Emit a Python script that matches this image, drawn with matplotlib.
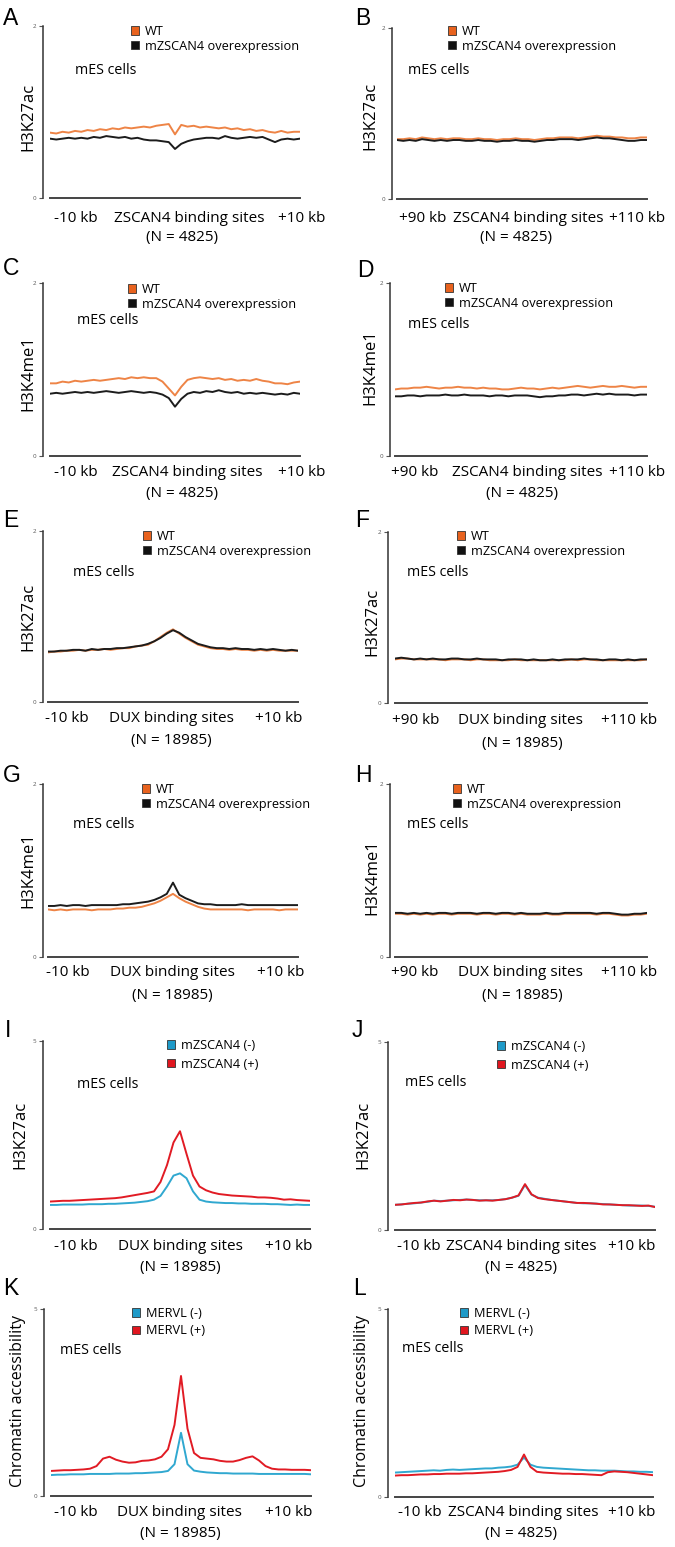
import numpy as np
import matplotlib.pyplot as plt
from matplotlib.patches import Patch

plt.rcParams['font.family'] = ['Open Sans', 'DejaVu Sans']

W, H = 675, 1547

# bin centres (kb)
x_near = np.arange(-10, 10.5, 0.5)
x_far = np.arange(90, 110.5, 0.5)

# A: H3K27ac around ZSCAN4 sites
a_wt = [.76, .75, .77, .76, .78, .77, .79, .78, .80, .79,
        .81, .80, .82, .81, .82, .83, .82, .84, .85, .86,
        .74, .85, .83, .84, .82, .83, .82, .81, .82, .80,
        .81, .79, .80, .78, .79, .77, .76, .78, .76, .77, .77]
a_oe = [.69, .68, .69, .70, .69, .70, .69, .71, .70, .72,
        .71, .70, .71, .69, .70, .68, .67, .67, .66, .65,
        .57, .63, .66, .68, .69, .70, .70, .69, .72, .70,
        .69, .70, .71, .70, .71, .68, .65, .68, .69, .68, .69]
# B: H3K27ac +90..+110 kb from ZSCAN4 sites
b_wt = [.70, .70, .71, .70, .72, .71, .70, .71, .70, .71,
        .71, .70, .70, .71, .70, .70, .69, .70, .70, .71,
        .70, .70, .69, .70, .71, .71, .72, .72, .72, .71,
        .72, .73, .74, .73, .73, .72, .72, .71, .71, .72, .72]
b_oe = [.69, .68, .69, .68, .70, .69, .68, .69, .68, .69,
        .69, .68, .68, .69, .68, .68, .67, .68, .68, .69,
        .68, .68, .67, .68, .69, .69, .70, .70, .70, .69,
        .70, .71, .72, .71, .71, .70, .69, .68, .68, .69, .69]
# C: H3K4me1 around ZSCAN4 sites
c_wt = [.84, .84, .86, .85, .87, .86, .87, .88, .87, .88,
        .89, .90, .89, .91, .90, .91, .90, .90, .86, .78,
        .70, .80, .88, .90, .91, .90, .89, .90, .88, .89,
        .87, .88, .87, .89, .87, .86, .84, .84, .83, .85, .86]
c_oe = [.72, .73, .72, .73, .74, .73, .74, .73, .74, .75,
        .74, .73, .74, .75, .74, .73, .74, .73, .71, .67,
        .57, .66, .72, .74, .73, .75, .74, .76, .74, .73,
        .74, .72, .73, .72, .73, .72, .71, .72, .71, .73, .72]
# D: H3K4me1 +90..+110 kb from ZSCAN4 sites
d_wt = [.77, .78, .78, .79, .79, .80, .79, .78, .79, .79,
        .80, .79, .79, .78, .79, .78, .78, .77, .77, .78,
        .79, .78, .78, .77, .78, .79, .78, .79, .80, .81,
        .80, .79, .80, .81, .80, .80, .81, .80, .79, .80, .80]
d_oe = [.69, .69, .70, .70, .69, .70, .70, .70, .71, .70,
        .70, .71, .70, .70, .70, .69, .70, .70, .69, .70,
        .70, .70, .69, .68, .69, .69, .70, .70, .71, .71,
        .70, .71, .72, .71, .72, .71, .71, .71, .70, .71, .71]
# E: H3K27ac around DUX sites
e_wt = [.58, .59, .59, .60, .60, .61, .60, .61, .61, .62,
        .61, .62, .63, .63, .65, .66, .67, .71, .76, .81,
        .85, .80, .75, .71, .67, .65, .63, .62, .62, .61,
        .62, .61, .61, .60, .61, .60, .61, .60, .60, .60, .60]
e_oe = [.59, .59, .60, .60, .61, .61, .60, .62, .61, .62,
        .62, .63, .63, .64, .65, .66, .68, .71, .75, .80,
        .84, .81, .76, .72, .68, .66, .64, .63, .63, .62,
        .63, .62, .62, .61, .62, .61, .62, .61, .60, .61, .60]
# F: H3K27ac +90..+110 kb from DUX sites
f_wt = [.51, .52, .52, .51, .51, .51, .51, .51, .50, .51,
        .51, .51, .50, .51, .51, .50, .50, .50, .50, .51,
        .50, .50, .50, .50, .50, .50, .50, .50, .51, .50,
        .51, .51, .50, .50, .50, .50, .50, .50, .50, .50, .51]
f_oe = [.52, .53, .52, .51, .52, .51, .52, .51, .51, .52,
        .52, .51, .51, .52, .51, .51, .51, .50, .51, .51,
        .51, .50, .51, .50, .50, .51, .50, .51, .51, .51,
        .52, .51, .51, .50, .51, .51, .50, .51, .50, .51, .51]
# G: H3K4me1 around DUX sites
g_wt = [.55, .54, .55, .54, .55, .55, .55, .54, .55, .55,
        .55, .56, .56, .57, .57, .58, .60, .62, .65, .69,
        .73, .68, .64, .61, .58, .56, .55, .55, .55, .55,
        .55, .55, .54, .55, .55, .55, .55, .54, .55, .55, .55]
g_oe = [.59, .59, .60, .59, .60, .60, .59, .60, .60, .60,
        .60, .60, .61, .61, .62, .63, .64, .66, .69, .73,
        .86, .72, .68, .65, .62, .61, .61, .60, .60, .60,
        .60, .61, .60, .60, .60, .60, .60, .60, .60, .60, .60]
# H: H3K4me1 +90..+110 kb from DUX sites
h_wt = [.50, .50, .49, .50, .49, .50, .49, .50, .50, .49,
        .50, .50, .50, .49, .50, .50, .49, .50, .50, .49,
        .50, .49, .49, .49, .50, .49, .49, .50, .50, .50,
        .50, .50, .49, .50, .50, .49, .48, .48, .49, .49, .50]
h_oe = [.51, .51, .50, .51, .50, .51, .50, .51, .51, .50,
        .51, .51, .51, .50, .51, .51, .50, .51, .51, .50,
        .51, .50, .50, .50, .51, .50, .50, .51, .51, .51,
        .51, .51, .50, .51, .51, .50, .49, .49, .50, .50, .51]
# I: H3K27ac at DUX sites, mZSCAN4 -/+
i_neg = [.64, .64, .65, .65, .65, .65, .66, .66, .66, .67,
         .67, .68, .69, .70, .72, .74, .78, .88, 1.13, 1.42,
         1.48, 1.35, 1.00, .78, .73, .71, .70, .69, .69, .68,
         .68, .67, .67, .67, .66, .66, .65, .64, .65, .64, .64]
i_pos = [.73, .74, .75, .75, .76, .77, .78, .79, .80, .81,
         .82, .84, .87, .90, .93, .96, 1.00, 1.25, 1.70, 2.30,
         2.60, 2.00, 1.42, 1.13, 1.03, .97, .93, .91, .89, .88,
         .87, .86, .84, .84, .83, .81, .78, .79, .77, .76, .75]
# J: H3K27ac at ZSCAN4 sites, mZSCAN4 -/+
j_neg = [.67, .68, .70, .71, .73, .75, .78, .77, .78, .79,
         .80, .81, .80, .79, .79, .79, .80, .82, .86, .91,
         1.20, .94, .86, .83, .80, .78, .76, .74, .72, .71,
         .71, .70, .69, .68, .67, .66, .65, .65, .65, .64, .62]
j_pos = [.67, .68, .70, .72, .73, .76, .78, .76, .78, .80,
         .79, .81, .80, .78, .79, .78, .80, .82, .86, .92,
         1.22, .95, .85, .82, .80, .78, .76, .74, .72, .72,
         .71, .70, .68, .68, .67, .66, .66, .65, .64, .65, .61]
# K: accessibility at DUX sites, MERVL -/+
k_neg = [.56, .57, .57, .58, .58, .58, .59, .59, .59, .59,
         .60, .60, .60, .61, .61, .62, .63, .64, .67, .85,
         1.69, .85, .68, .65, .63, .62, .61, .61, .60, .60,
         .60, .60, .59, .59, .59, .59, .59, .59, .59, .59, .58]
k_pos = [.67, .68, .69, .69, .70, .71, .73, .80, 1.00, 1.05,
         .97, .92, .89, .90, .94, .95, .98, 1.05, 1.25, 1.90,
         3.21, 1.80, 1.15, 1.02, 1.00, .98, .94, .92, .92, .96,
         1.02, 1.06, .95, .80, .73, .71, .71, .70, .70, .70, .69]
# L: accessibility at ZSCAN4 sites, MERVL -/+
l_neg = [.65, .66, .67, .68, .69, .70, .71, .70, .72, .73,
         .72, .73, .74, .75, .76, .76, .78, .79, .81, .86,
         1.05, .86, .80, .78, .77, .76, .75, .74, .73, .72,
         .71, .71, .70, .70, .70, .69, .68, .68, .67, .67, .66]
l_pos = [.57, .58, .58, .59, .60, .60, .61, .61, .62, .62,
         .62, .63, .63, .64, .65, .66, .67, .69, .72, .80,
         1.13, .80, .67, .65, .64, .63, .62, .62, .61, .61,
         .60, .59, .58, .66, .68, .67, .66, .64, .62, .60, .58]

wt_labels = ['WT', 'mZSCAN4 overexpression']
zs_labels = ['mZSCAN4 (-)', 'mZSCAN4 (+)']
mervl_labels = ['MERVL (-)', 'MERVL (+)']
near_ticks = ['-10 kb', '+10 kb']
far_ticks = ['+90 kb', '+110 kb']
site_zscan = 'ZSCAN4 binding sites'
site_dux = 'DUX binding sites'
n_zscan = '(N = 4825)'
n_dux = '(N = 18985)'

ORANGE, BLACK = '#ee8446', '#1c1c1c'
BLUE, RED = '#30a8d0', '#e11b24'
sq_wt = [('#e8621e', ORANGE), ('#111111', BLACK)]
sq_mz = [('#1e9ac8', BLUE), ('#e0161f', RED)]

# letter, x, series, square/line colours, labels, ymax, ylabel, sites, N, ticks,
# axis geometry (yaxis_x, x0, x1, ytop, ybot), letter pos, ylabel pos, legend pos,
# mES pos, bottom label x (left, mid, right, y), N pos, legend spacing
panels = [
    ('A', x_near, [a_wt, a_oe], sq_wt, wt_labels, 2, 'H3K27ac', site_zscan, n_zscan, near_ticks,
     (43, 50, 300, 26, 198), (3, 7), (28, 117), (131, 25), (75, 71), (76, 189, 302, 218), (182, 238), 0.12),
    ('B', x_far, [b_wt, b_oe], sq_wt, wt_labels, 2, 'H3K27ac', site_zscan, n_zscan, far_ticks,
     (392, 397, 647, 28, 199), (355, 7), (370, 116), (448, 25), (408, 71), (423, 528, 637, 218), (516, 238), 0.12),
    ('C', x_near, [c_wt, c_oe], sq_wt, wt_labels, 2, 'H3K4me1', site_zscan, n_zscan, near_ticks,
     (43, 50, 300, 283, 456), (3, 257), (28, 373), (128, 283), (77, 320), (76, 187, 302, 473), (182, 493), 0.12),
    ('D', x_far, [d_wt, d_oe], sq_wt, wt_labels, 2, 'H3K4me1', site_zscan, n_zscan, far_ticks,
     (390, 395, 647, 283, 456), (357, 259), (370, 367), (445, 282), (408, 325), (415, 527, 637, 473), (522, 493), 0.12),
    ('E', x_near, [e_wt, e_oe], sq_wt, wt_labels, 2, 'H3K27ac', site_dux, n_dux, near_ticks,
     (43, 48, 298, 531, 702), (3, 509), (28, 617), (143, 530), (73, 573), (67, 171, 279, 719), (171, 740), 0.12),
    ('F', x_far, [f_wt, f_oe], sq_wt, wt_labels, 2, 'H3K27ac', site_dux, n_dux, far_ticks,
     (388, 395, 647, 532, 703), (355, 509), (372, 622), (457, 530), (407, 573), (416, 520, 629, 720), (522, 743), 0.12),
    ('G', x_near, [g_wt, g_oe], sq_wt, wt_labels, 2, 'H3K4me1', site_dux, n_dux, near_ticks,
     (43, 48, 298, 784, 957), (3, 764), (28, 870), (142, 783), (73, 825), (68, 172, 281, 973), (172, 995), 0.12),
    ('H', x_far, [h_wt, h_oe], sq_wt, wt_labels, 2, 'H3K4me1', site_dux, n_dux, far_ticks,
     (390, 395, 647, 784, 957), (355, 764), (372, 877), (453, 783), (407, 825), (415, 520, 629, 973), (522, 995), 0.12),
    ('I', x_near, [i_neg, i_pos], sq_mz, zs_labels, 5, 'H3K27ac', site_dux, n_dux, near_ticks,
     (43, 50, 310, 1041, 1229), (5, 1019), (20, 1135), (167, 1039), (77, 1085), (76, 180, 289, 1247), (180, 1268), 0.45),
    ('J', x_near, [j_neg, j_pos], sq_mz, zs_labels, 5, 'H3K27ac', site_zscan, n_zscan, near_ticks,
     (388, 395, 655, 1042, 1230), (352, 1019), (363, 1135), (497, 1040), (405, 1083), (419, 521, 632, 1246), (521, 1268), 0.45),
    ('K', x_near, [k_neg, k_pos], sq_mz, mervl_labels, 5, 'Chromatin accessibility', site_dux, n_dux, near_ticks,
     (44, 51, 311, 1309, 1496), (3, 1277), (18, 1401), (132, 1307), (60, 1350), (76, 179, 289, 1512), (180, 1534), 0.35),
    ('L', x_near, [l_neg, l_pos], sq_mz, mervl_labels, 5, 'Chromatin accessibility', site_zscan, n_zscan, near_ticks,
     (388, 395, 653, 1309, 1497), (353, 1277), (362, 1401), (460, 1307), (402, 1348), (420, 523, 632, 1513), (521, 1533), 0.35),
]


def fx(x):
    return x / W


def fy(y):
    return 1 - y / H


fig = plt.figure(figsize=(W / 100, H / 100), dpi=100)

for (letter, x, series, cols, labels, ymax, ylab, site, ntext, ticks,
     geo, lpos, ylpos, legpos, mespos, bot, npos, lspace) in panels:
    yax, x0, x1, yt, yb = geo
    ax = fig.add_axes([fx(x0), fy(yb), (x1 - x0) / W, (yb - yt) / H])
    for s, (_, lc) in zip(series, cols):
        ax.plot(x, s, color=lc, lw=1.4)
    ax.set_xlim(x[0], x[-1])
    ax.set_ylim(0, ymax)
    for side in ['top', 'right']:
        ax.spines[side].set_visible(False)
    ax.spines['left'].set_position(('outward', (x0 - yax) * 0.72))
    ax.spines['left'].set_color('#333333')
    ax.spines['left'].set_linewidth(1.1)
    ax.spines['bottom'].set_color('#444444')
    ax.spines['bottom'].set_linewidth(1.4)
    ax.set_xticks([])
    ax.set_yticks([0, ymax])
    ax.tick_params(axis='y', length=3, width=0.8, colors='#555555', labelsize=4.5, pad=2)

    handles = [Patch(facecolor=fc, edgecolor='#333333', linewidth=0.6) for fc, _ in cols]
    ax.legend(handles, labels, loc='upper left', bbox_to_anchor=(fx(legpos[0]), fy(legpos[1])),
              bbox_transform=fig.transFigure, frameon=False, fontsize=9.2,
              handlelength=0.6, handleheight=0.6, handletextpad=0.5,
              labelspacing=lspace, borderpad=0, borderaxespad=0)

    fig.text(fx(lpos[0]), fy(lpos[1]), letter, fontsize=16.5, family='Liberation Sans',
             ha='left', va='top')
    fig.text(fx(ylpos[0]), fy(ylpos[1]), ylab, rotation=90, fontsize=12 if len(ylab) < 10 else 11.5,
             ha='center', va='center')
    fig.text(fx(mespos[0]), fy(mespos[1]), 'mES cells', fontsize=10.3, ha='left', va='center')
    fig.text(fx(bot[0]), fy(bot[3]), ticks[0], fontsize=11, ha='center', va='center')
    fig.text(fx(bot[1]), fy(bot[3]), site, fontsize=11, ha='center', va='center')
    fig.text(fx(bot[2]), fy(bot[3]), ticks[1], fontsize=11, ha='center', va='center')
    fig.text(fx(npos[0]), fy(npos[1]), ntext, fontsize=11, ha='center', va='center')

fig.savefig('out.png', dpi=100)
